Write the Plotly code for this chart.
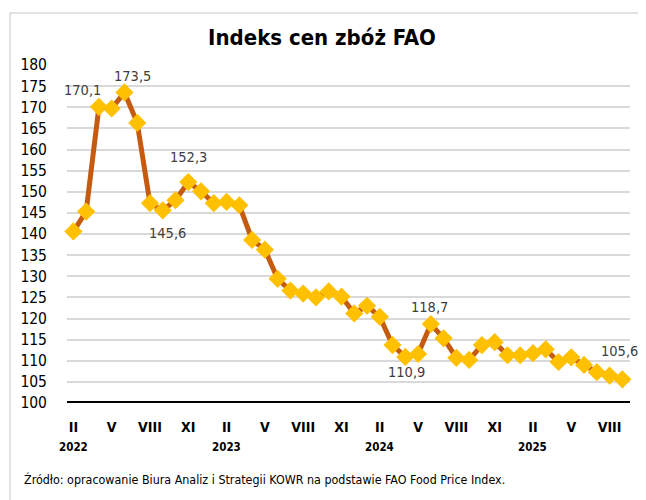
import plotly.graph_objects as go

months = ["II 2022","III 2022","IV 2022","V 2022","VI 2022","VII 2022","VIII 2022","IX 2022","X 2022","XI 2022","XII 2022",
          "I 2023","II 2023","III 2023","IV 2023","V 2023","VI 2023","VII 2023","VIII 2023","IX 2023","X 2023","XI 2023","XII 2023",
          "I 2024","II 2024","III 2024","IV 2024","V 2024","VI 2024","VII 2024","VIII 2024","IX 2024","X 2024","XI 2024","XII 2024",
          "I 2025","II 2025","III 2025","IV 2025","V 2025","VI 2025","VII 2025","VIII 2025","IX 2025"]
values = [140.6, 145.3, 170.1, 169.7, 173.5, 166.3, 147.3, 145.6, 148.0, 152.3, 150.1,
          147.3, 147.6, 146.8, 138.6, 136.3, 129.4, 126.6, 125.9, 125.0, 126.4, 125.2, 121.2,
          123.0, 120.4, 113.7, 110.9, 111.6, 118.7, 115.3, 110.7, 110.2, 113.7, 114.4, 111.3,
          111.3, 111.8, 112.7, 109.7, 110.8, 109.0, 107.3, 106.5, 105.6]
tick_idx = [0, 3, 6, 9, 12, 15, 18, 21, 24, 27, 30, 33, 36, 39, 42]
tick_text = ["II", "V", "VIII", "XI", "II", "V", "VIII", "XI", "II", "V", "VIII", "XI", "II", "V", "VIII"]
year_idx = [0, 12, 24, 36]
year_text = ["2022", "2023", "2024", "2025"]
# labelled points: index, text, xshift, yshift
labels = [(2, "170,1", -16, 17), (4, "173,5", 8, 16), (9, "152,3", 0, 25),
          (7, "145,6", 5, -23), (26, "110,9", 1, -15), (28, "118,7", -1, 17), (43, "105,6", -3, 28)]

FONT = "Liberation Sans Narrow, DejaVu Sans Condensed, sans-serif"
x = list(range(len(values)))

# page body has an 8px offset; figure is sized so that it fills the 646x500 window
W, H = 638, 492
ML, MR, MT, MB = 59, 16, 57, 97
PW = W - ML - MR
PH = H - MT - MB
OFF = 8


def px_x(px):
    return (px - OFF - ML) / PW


def px_y(py):
    return (H - MB - (py - OFF)) / PH


fig = go.Figure()
fig.add_trace(go.Scatter(
    x=x, y=values, mode="lines+markers",
    line=dict(color="#C55A11", width=5),
    marker=dict(symbol="diamond", size=14, color="#FFC000", line=dict(width=0)),
    hoverinfo="skip", showlegend=False, cliponaxis=False))

for i, t, dx, dy in labels:
    fig.add_annotation(x=i, y=values[i], text=t, showarrow=False, xshift=dx, yshift=dy,
                       font=dict(family=FONT, size=14.5, color="#404040"))

for i, t in zip(year_idx, year_text):
    fig.add_annotation(x=i, y=px_y(447), yref="paper", yanchor="middle", text="<b>" + t + "</b>",
                       showarrow=False, font=dict(family=FONT, size=11.5, color="#000000"))

fig.add_annotation(x=px_x(22), xref="paper", xanchor="left", y=px_y(479), yref="paper", yanchor="middle",
                   text="Źródło: opracowanie Biura Analiz i Strategii KOWR na podstawie FAO Food Price Index.",
                   showarrow=False, font=dict(family=FONT, size=12.4, color="#000000"))

fig.update_layout(
    width=W, height=H,
    margin=dict(l=ML, r=MR, t=MT, b=MB),
    paper_bgcolor="white", plot_bgcolor="white",
    title=dict(text="<b>Indeks cen zbóż FAO</b>", x=0.5 + (322 - OFF - W / 2) / W, xanchor="center",
               y=1 - (37 - OFF) / H, yanchor="middle",
               font=dict(family=FONT, size=22, color="#000000")),
    xaxis=dict(range=[-0.5, 43.6], tickmode="array", tickvals=tick_idx,
               ticktext=["<b>" + t + "</b>" for t in tick_text],
               showgrid=False, zeroline=False, showline=False, ticks="",
               ticklabelstandoff=14,
               tickfont=dict(family=FONT, size=14, color="#000000")),
    yaxis=dict(range=[100, 180], dtick=5, tick0=100, showgrid=True, gridcolor="#D9D9D9", gridwidth=1.5,
               zeroline=False, showline=False, ticks="", ticklabelstandoff=19,
               tickfont=dict(family=FONT, size=15.5, color="#000000")),
    shapes=[
        dict(type="line", xref="paper", yref="y", x0=0, x1=1, y0=100, y1=100,
             line=dict(color="#000000", width=4), layer="above"),
        dict(type="rect", xref="paper", yref="paper", x0=px_x(10), x1=px_x(700), y0=px_y(560), y1=px_y(13),
             line=dict(color="#D9D9D9", width=1.5), layer="below"),
    ],
)
fig.write_html("out.html")
